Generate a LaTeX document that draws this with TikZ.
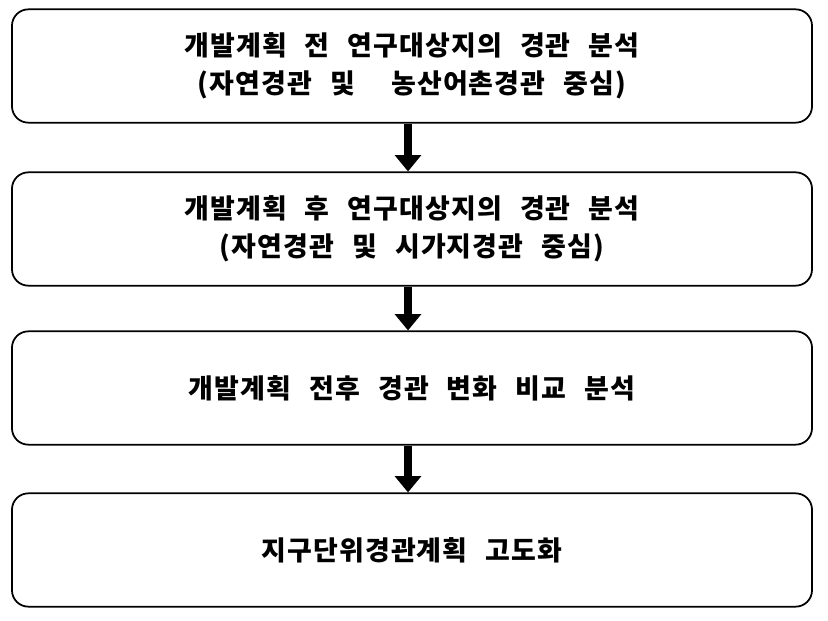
\documentclass[tikz,border=0pt]{standalone}
\usepackage{fontspec}
\setmainfont{Noto Sans CJK KR}[WordSpace=2.5,LetterSpace=4]
\usetikzlibrary{positioning,arrows.meta}

\tikzset{
  stepbox/.style={draw, line width=1.5pt, rounded corners=14pt, minimum width=24cm,
    minimum height=3.4cm, align=center, font=\fontsize{23}{32}\selectfont\bfseries},
  flow/.style={line width=7pt, -{Triangle[width=22pt,length=14pt]}}
}

\begin{document}
\begin{tikzpicture}[x=0.03cm,y=-0.03cm]

\useasboundingbox (0,0) rectangle (828,621);

\node[stepbox] (before) at (412,66) {개발계획 전 연구대상지의 경관 분석\\(자연경관 및 \ 농산어촌경관 중심)};
\node[stepbox] (after) at (412,229) {개발계획 후 연구대상지의 경관 분석\\(자연경관 및 시가지경관 중심)};
\node[stepbox] (compare) at (412,388) {개발계획 전후 경관 변화 비교 분석};
\node[stepbox] (plan) at (412,550) {지구단위경관계획 고도화};

\draw[flow] (before.south -| 408,0) -- (after.north -| 408,0);
\draw[flow] (after.south -| 408,0) -- (compare.north -| 408,0);
\draw[flow] (compare.south -| 408,0) -- (plan.north -| 408,0);

\end{tikzpicture}
\end{document}
